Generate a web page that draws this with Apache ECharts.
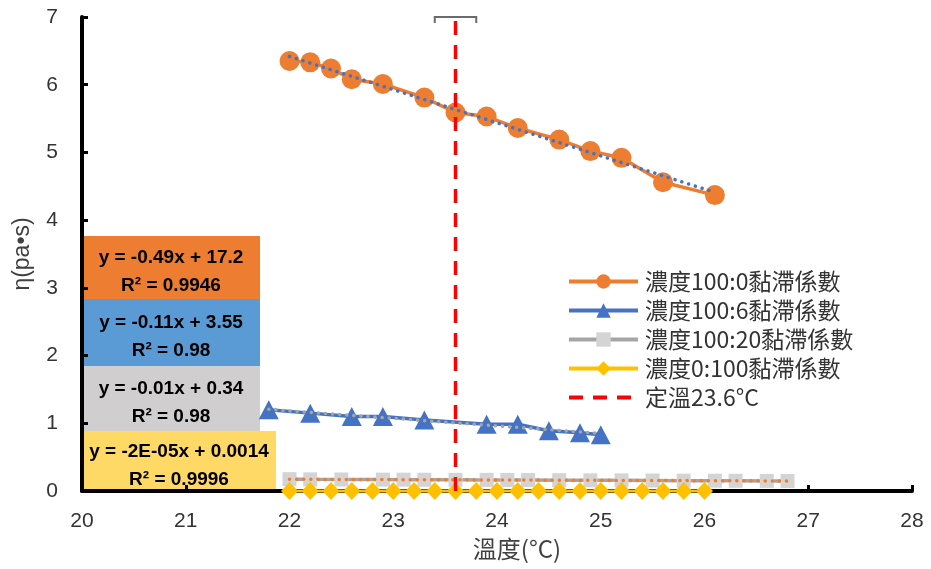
<!DOCTYPE html>
<html><head><meta charset="utf-8">
<script src="https://cdn.jsdelivr.net/npm/echarts@6/dist/echarts.min.js"></script>
<style>html,body{margin:0;padding:0;background:#fff}#c{width:931px;height:569px}</style>
</head><body><div id="c"></div>
<script>
// ---- data ----
const temp100_0 = [22.0,22.2,22.4,22.6,22.9,23.3,23.6,23.9,24.2,24.6,24.9,25.2,25.6,26.1];
const visc100_0 = [6.35,6.33,6.24,6.08,6.01,5.81,5.59,5.53,5.36,5.19,5.02,4.92,4.56,4.37];
const temp100_6 = [21.8,22.2,22.6,22.9,23.3,23.9,24.2,24.5,24.8,25.0];
const visc100_6 = [1.20,1.15,1.10,1.10,1.05,0.985,0.985,0.89,0.86,0.83];
const temp100_20 = [22.0,22.2,22.5,22.9,23.1,23.3,23.6,23.9,24.1,24.3,24.6,24.9,25.2,25.5,25.8,26.1,26.3,26.6,26.8];
const visc100_20 = [0.175,0.172,0.170,0.168,0.167,0.166,0.165,0.164,0.163,0.162,0.160,0.158,0.157,0.155,0.153,0.152,0.151,0.149,0.148];
const temp0_100 = [22.0,22.2,22.4,22.6,22.8,23.0,23.2,23.4,23.6,23.8,24.0,24.2,24.4,24.6,24.8,25.0,25.2,25.4,25.6,25.8,26.0];
const visc0_100 = [0.00096,0.00096,0.00095,0.00095,0.00094,0.00094,0.00094,0.00093,0.00093,0.00092,0.00092,0.00092,0.00091,0.00091,0.00090,0.00090,0.00090,0.00089,0.00089,0.00088,0.00088];
const constTemp = 23.6;
const capHalfWidth = 0.2;
const xRange = [20, 28];
const yRange = [0, 7];
const seriesNames = ['濃度100:0黏滯係數','濃度100:6黏滯係數','濃度100:20黏滯係數','濃度0:100黏滯係數','定溫23.6°C'];
const eqLine1 = ['y = -0.49x + 17.2','y = -0.11x + 3.55','y = -0.01x + 0.34','y = -2E-05x + 0.0014'];
const eqLine2 = ['R² = 0.9946','R² = 0.98','R² = 0.98','R² = 0.9996'];

function zip(xs, ys){ return xs.map((x,i)=>[x, ys[i]]); }
function trend(xs, ys){
  const n = xs.length;
  const mx = xs.reduce((a,b)=>a+b,0)/n, my = ys.reduce((a,b)=>a+b,0)/n;
  let sxy=0, sxx=0;
  for(let i=0;i<n;i++){ sxy += (xs[i]-mx)*(ys[i]-my); sxx += (xs[i]-mx)*(xs[i]-mx); }
  const b = sxy/sxx, a = my - b*mx;
  const x0 = Math.min(...xs), x1 = Math.max(...xs);
  return [[x0, a+b*x0],[x1, a+b*x1]];
}

const chart = echarts.init(document.getElementById('c'));
const font = 'Liberation Sans, Arial, sans-serif';
const cjk = '"Noto Sans CJK TC", "Noto Sans CJK SC", sans-serif';

const boxes = [
  {color:'#ED7D31', top:236, h:63, w:178},
  {color:'#5B9BD5', top:299, h:67, w:178},
  {color:'#D0CECE', top:366, h:65, w:178},
  {color:'#FFD966', top:431, h:62, w:194}
];
const graphics = boxes.map((b,i)=>({
  type:'group', left:82, top:b.top, z:100,
  children:[
    {type:'rect', shape:{x:0,y:0,width:b.w,height:b.h}, style:{fill:b.color}},
    {type:'text', x:b.w/2, y:b.h/2+4, style:{
      text: eqLine1[i] + '\n' + eqLine2[i], fill:'#000', font:'bold 19px ' + font,
      align:'center', verticalAlign:'middle', lineHeight:28}}
  ]
}));

const dotted = (c)=>({color:c, width:3.5, type:[0.1,7], cap:'round'});

chart.setOption({
  animation:false,
  backgroundColor:'#fff',
  grid:{left:82, right:19, top:17, bottom:78, containLabel:false, outerBoundsMode:'none'},
  xAxis:{
    type:'value', min:xRange[0], max:xRange[1], interval:1,
    name:'溫度(°C)', nameLocation:'middle', nameGap:44,
    nameTextStyle:{fontFamily:cjk, fontSize:24, color:'#404040', padding:[0,0,0,40]},
    axisLine:{onZero:false, lineStyle:{color:'#000', width:4}},
    axisTick:{show:true, inside:true, length:6, lineStyle:{color:'#000', width:3}},
    axisLabel:{fontFamily:font, fontSize:21, color:'#333', margin:20},
    splitLine:{show:false}
  },
  yAxis:{
    type:'value', min:yRange[0], max:yRange[1], interval:1,
    name:'η(pa•s)', nameLocation:'middle', nameGap:48, nameRotate:90,
    nameTextStyle:{fontFamily:font, fontSize:23, color:'#404040'},
    axisLine:{show:true, lineStyle:{color:'#000', width:4}},
    axisTick:{show:true, inside:true, length:6, lineStyle:{color:'#000', width:3}},
    axisLabel:{fontFamily:font, fontSize:21, color:'#333', margin:24},
    splitLine:{show:false}
  },
  legend:{
    data:[
      {name:seriesNames[0]},{name:seriesNames[1]},{name:seriesNames[2]},{name:seriesNames[3]},
      {name:seriesNames[4], itemStyle:{color:'rgba(0,0,0,0)', borderWidth:0}}
    ],
    orient:'vertical', left:567, top:270, padding:0,
    itemWidth:69, itemHeight:18, itemGap:6,
    lineStyle:{width:4},
    textStyle:{fontFamily:cjk, fontSize:23, color:'#333', lineHeight:23, padding:[0,0,0,2]}
  },
  graphic:graphics,
  series:[
    {name:seriesNames[0], type:'line', data:zip(temp100_0, visc100_0), symbol:'circle', symbolSize:20,
     itemStyle:{color:'#ED7D31'}, lineStyle:{color:'#ED7D31', width:3.5}, z:3, clip:false},
    {name:seriesNames[1], type:'line', data:zip(temp100_6, visc100_6), symbol:'triangle', symbolSize:[20,19],
     itemStyle:{color:'#4472C4'}, lineStyle:{color:'#4472C4', width:3.5}, z:3, clip:false},
    {name:seriesNames[2], type:'line', data:zip(temp100_20, visc100_20), symbol:'rect', symbolSize:14,
     itemStyle:{color:'#D4D4D4'}, lineStyle:{color:'#A5A5A5', width:3.5}, z:3, clip:false},
    {name:seriesNames[3], type:'line', data:zip(temp0_100, visc0_100), symbol:'diamond', symbolSize:[17,18],
     itemStyle:{color:'#FFC000'}, lineStyle:{color:'#FFC000', width:3}, z:4, clip:false},
    {name:'trend1', type:'line', data:trend(temp100_0, visc100_0), symbol:'none', lineStyle:dotted('#4472C4'), z:6, silent:true},
    {name:'trend2', type:'line', data:trend(temp100_6, visc100_6), symbol:'none', lineStyle:dotted('#A5A5A5'), z:6, silent:true},
    {name:'trend3', type:'line', data:trend(temp100_20, visc100_20), symbol:'none', lineStyle:dotted('#ED7D31'), z:6, silent:true},
    {name:seriesNames[4], type:'line', data:[[constTemp, yRange[0]],[constTemp, yRange[1]]], symbol:'none',
     itemStyle:{color:'#FF0000'}, lineStyle:{color:'#FF0000', width:3.5, type:[14,10]}, z:7, clip:false},
    {name:'cap', type:'custom', data:[[constTemp, yRange[1], capHalfWidth]], z:7, clip:false, silent:true,
     renderItem:function(params, api){
       const c = api.coord([api.value(0)-api.value(2), api.value(1)]);
       const d = api.coord([api.value(0)+api.value(2), api.value(1)]);
       return {type:'polyline', shape:{points:[[c[0],c[1]+6],[c[0],c[1]],[d[0],d[1]],[d[0],d[1]+6]]},
               style:{stroke:'#6b6b6b', lineWidth:2, fill:null}};
     }}
  ]
});
</script></body></html>
